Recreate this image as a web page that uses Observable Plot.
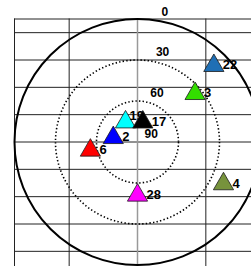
<!DOCTYPE html>
<html>
<head>
<meta charset="utf-8">
<script src="https://cdn.jsdelivr.net/npm/d3@7"></script>
<script src="https://cdn.jsdelivr.net/npm/@observablehq/plot@0.6"></script>
<style>
  html, body { margin: 0; padding: 0; background: #fff; }
  #chart svg { display: block; }
</style>
</head>
<body>
<div id="chart"></div>
<script>
// Satellite data (PRN, azimuth in degrees, elevation in degrees, colour)
const prn = ["22", "3", "19", "2", "6", "17", "28", "4"];
const azimuth = [45, 50, 329, 280, 260, 15, 180, 116];
const elevation = [11, 35, 73, 72, 55, 75, 51, 20];
const colors = ["#1f6fb5", "#33dd00", "#00ffff", "#0000ff", "#ff0000", "#000000", "#ff00ff", "#77933c"];

// Elevation rings and their labels
const ringElevations = [0, 30, 60];
const ringLabels = [0, 30, 60, 90];

// Background spreadsheet-like grid (in plot units)
const gridX = [-90, -50, 0, 50];
const gridY = [90, 80, 60, 40, 20, 0, -20, -40, -60, -80];

// Layout
const W = 251, H = 266, cx = 137, cy = 141.5, R = 123;
const k = R / 90;
const xDom = [-cx / k, (W - cx) / k];
const yDom = [-(H - cy) / k, cy / k];

const rad = Math.PI / 180;
const sats = prn.map((p, i) => {
  const rr = 90 - elevation[i];
  return {prn: p, color: colors[i],
          x: rr * Math.sin(azimuth[i] * rad),
          y: rr * Math.cos(azimuth[i] * rad)};
});

const labelAngle = 8 * rad;
// label nudges (pixels) for crowded labels
const labelNudge = {"19": [4, -6]};

const satMarks = sats.flatMap(s => {
  const [ndx, ndy] = labelNudge[s.prn] || [9, -0.5];
  return [
    Plot.dot([s], {x: "x", y: "y", symbol: "triangle", r: 7.5, fill: s.color,
                   stroke: "#1a1a1a", strokeWidth: 0.8}),
    Plot.text([s], {x: "x", y: "y", text: "prn", dx: ndx, dy: ndy,
                    textAnchor: "start", lineAnchor: "middle",
                    fontSize: 13, fontWeight: "bold", fill: "#000"})
  ];
});

const chart = Plot.plot({
  width: W,
  height: H,
  margin: 0,
  x: {domain: xDom, axis: null},
  y: {domain: yDom, axis: null},
  r: {type: "linear", domain: [0, 90], range: [0, R]},
  style: {background: "#fff", fontFamily: "'Liberation Sans', Arial, sans-serif"},
  marks: [
    Plot.ruleY(gridY, {y: d => d, x1: -90, x2: xDom[1], stroke: "#222", strokeWidth: 1}),
    Plot.ruleX(gridX.filter(d => d !== 0), {x: d => d, y1: 90, y2: yDom[0], stroke: "#222", strokeWidth: 1}),
    Plot.ruleX(gridX.filter(d => d === 0), {x: d => d, y1: 90, y2: yDom[0], stroke: "#999", strokeWidth: 1.5}),
    Plot.dot(ringElevations.filter(e => e === 0), {x: 0, y: 0, r: e => 90 - e, fill: "none", stroke: "#000", strokeWidth: 2}),
    Plot.dot(ringElevations.filter(e => e !== 0), {x: 0, y: 0, r: e => 90 - e, fill: "none", stroke: "#000",
                                                   strokeWidth: 1.6, strokeDasharray: "1.4,2.2"}),
    Plot.text(ringLabels, {
      x: e => (90 - e) * Math.sin(labelAngle),
      y: e => (90 - e) * Math.cos(labelAngle),
      text: d => String(d),
      dx: 7, dy: -4.5, textAnchor: "start", lineAnchor: "bottom",
      fontSize: 12, fontWeight: "bold", fill: "#000"
    }),
    ...satMarks
  ]
});

document.getElementById("chart").appendChild(chart);
</script>
</body>
</html>
